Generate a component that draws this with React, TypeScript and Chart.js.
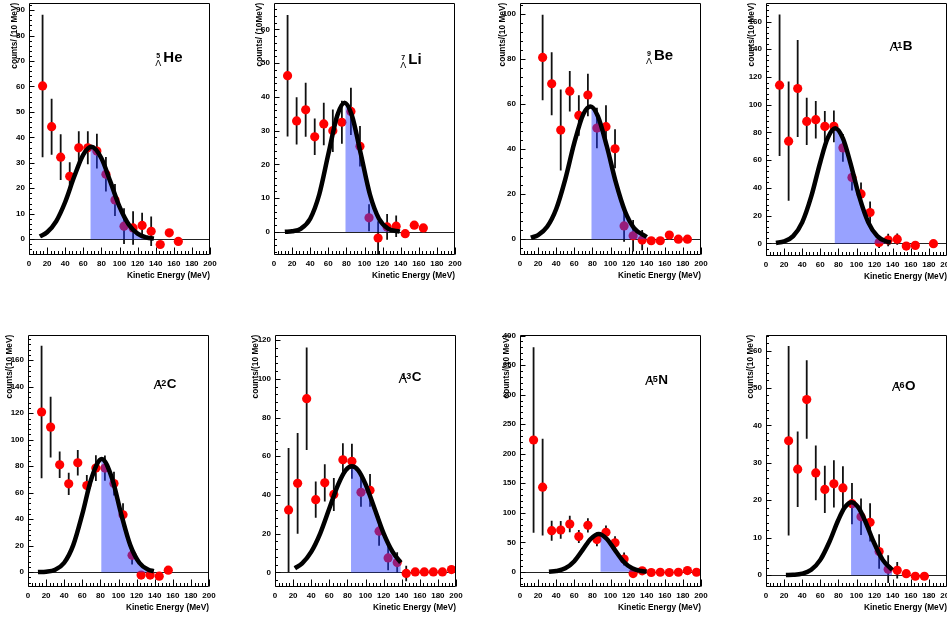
import React, { useEffect, useRef } from "react";
import { Chart, registerables } from "chart.js";

// ---------------- DATA ----------------
const xAxisTitle = "Kinetic Energy (MeV)";
const yAxisTitles = [
  "counts/ (10 MeV)",
  "counts/ (10MeV)",
  "counts/(10 MeV)",
  "counts/(10 MeV)",
  "counts/(10 MeV)",
  "counts/(10 MeV)",
  "counts/(10 MeV)",
  "counts/(10 MeV)",
];
const massNumbers = ["5", "7", "9", "11", "12", "13", "15", "16"];
const elements = ["He", "Li", "Be", "B", "C", "C", "N", "O"];
const xTickValues = [0, 20, 40, 60, 80, 100, 120, 140, 160, 180, 200];
// start (MeV) of the shaded region under each fit
const shadeFrom = [68, 79, 79, 76, 81, 84, 89, 94];

// 5-Lambda He
const heBins = [15, 25, 35, 45, 55, 65, 75, 85, 95, 105, 115, 125, 135, 145, 155, 165];
const heCounts = [60.2, 44.2, 32.2, 24.7, 35.9, 35.9, 34.6, 25.5, 15.4, 5.1, 4.4, 5.4, 3.1, -2.1, 2.5, -0.9];
const heErrors = [28, 11, 9, 5.5, 6.5, 6.5, 6.8, 6.8, 6.3, 7, 6.6, 5, 5.8, 1, 1, 1];
const heFitE = [12, 20, 30, 40, 50, 60, 69, 80, 90, 100, 110, 120, 130, 138];
const heFitCounts = [1.08, 2.7, 7.0, 14.6, 24.6, 33.2, 36.3, 31.8, 22.5, 12.8, 5.9, 2.18, 0.65, 0.21];

// 7-Lambda Li
const liBins = [15, 25, 35, 45, 55, 65, 75, 85, 95, 105, 115, 125, 135, 145, 155, 165];
const liCounts = [46.3, 32.9, 36.2, 28.2, 32.0, 30.0, 32.5, 35.7, 25.4, 4.2, -1.8, 1.5, 1.7, -0.5, 2.0, 1.2];
const liErrors = [18, 7, 8, 5.4, 6.3, 6.3, 6.4, 7, 6, 4, 5, 3.8, 3.2, 1, 0.5, 0.5];
const liFitE = [12, 20, 30, 40, 50, 60, 70, 78, 86, 96, 106, 116, 126, 139];
const liFitCounts = [0.04, 0.19, 1.01, 3.92, 11.1, 23.0, 34.6, 38.3, 34.6, 23.0, 11.1, 3.92, 1.01, 0.11];

// 9-Lambda Be
const beBins = [25, 35, 45, 55, 65, 75, 85, 95, 105, 115, 125, 135, 145, 155, 165, 175, 185];
const beCounts = [80.8, 69.1, 48.5, 65.8, 55.0, 64.1, 49.4, 50.0, 40.2, 5.9, 1.5, -0.4, -0.7, -0.7, 1.8, 0, 0];
const beErrors = [19, 14, 18, 9, 9, 9.5, 9, 9.5, 8.7, 7, 7, 4.5, 1, 1, 1, 1, 1];
const beFitE = [12, 20, 30, 40, 50, 60, 70, 78, 86, 96, 106, 116, 126, 140];
const beFitCounts = [0.65, 1.82, 5.49, 13.4, 26.6, 42.8, 55.6, 59.0, 54.7, 41.2, 25.1, 12.4, 4.96, 0.97];

// 11-Lambda B
const bBins = [15, 25, 35, 45, 55, 65, 75, 85, 95, 105, 115, 125, 135, 145, 155, 165, 185];
const bCounts = [114.1, 73.7, 111.7, 88.0, 89.2, 84.4, 84.4, 68.9, 47.6, 35.7, 22.3, 0.7, 2.4, 3.1, -1.9, -1.4, -0.2];
const bErrors = [51, 43, 35, 17, 13.5, 11, 11.5, 10, 9.5, 8.3, 8, 4, 4.5, 4, 2, 1, 1];
const bFitE = [11, 20, 30, 40, 50, 60, 68, 76.5, 85, 93, 103, 113, 123, 133, 138];
const bFitCounts = [0.35, 1.42, 5.26, 15.2, 33.9, 58.7, 75.7, 83, 75.7, 58.7, 33.9, 15.2, 5.26, 1.42, 0.67];

// 12-Lambda C
const c12Bins = [15, 25, 35, 45, 55, 65, 75, 85, 95, 105, 115, 125, 135, 145, 155];
const c12Counts = [120.9, 109.5, 81.1, 66.7, 82.6, 65.4, 78.6, 78.6, 66.9, 43.3, 12.7, -2.2, -2.2, -3.0, 1.5];
const c12Errors = [50, 23, 10, 8.4, 9.7, 8, 9.7, 9.5, 9, 8.7, 7, 3, 3, 2, 1];
const c12FitE = [11, 20, 30, 40, 50, 60, 70, 81.5, 93, 103, 113, 123, 133, 139];
const c12FitCounts = [0.07, 0.36, 1.86, 7.1, 20.4, 43.8, 70.6, 85.5, 70.6, 43.8, 20.4, 7.1, 1.86, 0.72];

// 13-Lambda C
const c13Bins = [15, 25, 35, 45, 55, 65, 75, 85, 95, 105, 115, 125, 135, 145, 155, 165, 175, 185, 195];
const c13Counts = [32.3, 46.0, 89.7, 37.6, 46.3, 40.3, 58.2, 57.4, 41.4, 42.4, 21.3, 7.5, 5.1, -0.5, 0.3, 0.3, 0.3, 0.3, 1.5];
const c13Errors = [32, 26, 26.5, 9.4, 9.6, 8.5, 8.5, 9, 7.5, 8.5, 7.5, 6.4, 5.3, 4, 0.5, 0.5, 0.5, 0.5, 0.5];
const c13FitE = [22, 30, 40, 50, 60, 70, 78, 85, 92, 100, 110, 120, 130, 139];
const c13FitCounts = [2.17, 4.69, 10.6, 20.2, 33.0, 45.6, 52.7, 54.8, 52.7, 45.6, 33.0, 20.2, 10.6, 5.1];

// 15-Lambda N
const nBins = [15, 25, 35, 45, 55, 65, 75, 85, 95, 105, 115, 125, 135, 145, 155, 165, 175, 185, 195];
const nCounts = [223.2, 143.4, 69.7, 70.9, 80.9, 59.7, 78.7, 54.7, 66.9, 49.1, 21.8, -2.8, 1.7, -1.1, -0.6, -1.1, -0.6, 2.2, -0.6];
const nErrors = [157, 82, 17, 15, 14, 11, 12, 11.5, 11.5, 11, 11, 5, 4, 1, 1, 1, 1, 1, 1];
const nFitE = [32, 40, 50, 60, 70, 78, 87, 96, 104, 114, 124, 134, 140];
const nFitCounts = [0.34, 1.4, 6.0, 18.1, 38.8, 55.6, 64, 55.6, 38.8, 18.1, 6.0, 1.4, 0.5];

// 16-Lambda O
const oBins = [25, 35, 45, 55, 65, 75, 85, 95, 105, 115, 125, 135, 145, 155, 165, 175];
const oCounts = [35.9, 28.3, 46.9, 27.3, 22.9, 24.4, 23.3, 19.1, 15.6, 14.1, 6.3, 1.6, 1.3, 0.4, -0.3, -0.3];
const oErrors = [25.3, 10.1, 10.5, 7.3, 6.3, 6.3, 5.8, 5.5, 4.9, 5.1, 4.6, 3.7, 2.2, 1, 0.5, 0.5];
const oFitE = [22, 30, 40, 50, 60, 70, 80, 87, 94.5, 102, 109, 119, 129, 139.5];
const oFitCounts = [0.02, 0.08, 0.39, 1.44, 4.08, 8.86, 14.8, 18.1, 19.5, 18.1, 14.8, 8.86, 4.08, 1.36];

const SERIES = [
  { bins: heBins, counts: heCounts, errors: heErrors, fitE: heFitE, fitY: heFitCounts },
  { bins: liBins, counts: liCounts, errors: liErrors, fitE: liFitE, fitY: liFitCounts },
  { bins: beBins, counts: beCounts, errors: beErrors, fitE: beFitE, fitY: beFitCounts },
  { bins: bBins, counts: bCounts, errors: bErrors, fitE: bFitE, fitY: bFitCounts },
  { bins: c12Bins, counts: c12Counts, errors: c12Errors, fitE: c12FitE, fitY: c12FitCounts },
  { bins: c13Bins, counts: c13Counts, errors: c13Errors, fitE: c13FitE, fitY: c13FitCounts },
  { bins: nBins, counts: nCounts, errors: nErrors, fitE: nFitE, fitY: nFitCounts },
  { bins: oBins, counts: oCounts, errors: oErrors, fitE: oFitE, fitY: oFitCounts },
];

// ---------------- LAYOUT / STYLE ----------------
const PLOT_W = 181;
const X_AXIS_H = 26;
const PAD_TOP = 6;
const PAD_RIGHT = 12;
const FONT = '"Liberation Sans", Arial, Helvetica, sans-serif';
const SHADE = "rgba(40, 60, 255, 0.48)";

const LAYOUT = [
  { L: 29, T: 0, B: 255, d: 14, yMin: -6.22, yMax: 92.85, yStep: 10, lx: 134.3, ly: 59.3, stack: true },
  { L: 274, T: 0, B: 255, d: 14, yMin: -6.83, yMax: 67.9, yStep: 10, lx: 134.3, ly: 61.5, stack: true },
  { L: 520, T: 0, B: 255, d: 17, yMin: -7.04, yMax: 105.1, yStep: 20, lx: 134, ly: 57.3, stack: true },
  { L: 766, T: 0, B: 256, d: 14, yMin: -9.06, yMax: 173.5, yStep: 20, lx: 136.7, ly: 46.7, stack: false },
  { L: 28, T: 332, B: 587, d: 18, yMin: -11.2, yMax: 179.2, yStep: 20, lx: 138.7, ly: 53, stack: false },
  { L: 275, T: 332, B: 587, d: 19, yMin: -7.5, yMax: 122.7, yStep: 20, lx: 136.7, ly: 46.3, stack: false },
  { L: 520, T: 332, B: 587, d: 13, yMin: -25.6, yMax: 401.2, yStep: 50, lx: 138.3, ly: 48.7, stack: false },
  { L: 766, T: 332, B: 587, d: 15, yMin: -3.17, yMax: 64.2, yStep: 10, lx: 139, ly: 54.7, stack: false },
];

// Decoration plugin: error bars, clipped shading, zero line, frame with inner ticks, nuclide label
const decoPlugin: any = {
  id: "deco",
  defaults: { idx: -1 },
  beforeDatasetsDraw(chart: any, _a: any, opts: any) {
    if (opts.idx < 0) return;
    const { ctx, chartArea: ca } = chart;
    const ys = chart.scales.y;
    const y0 = Math.round(ys.getPixelForValue(0)) + 0.5;
    ctx.save();
    ctx.strokeStyle = "#222";
    ctx.lineWidth = 1.2;
    ctx.beginPath();
    ctx.moveTo(ca.left, y0);
    ctx.lineTo(ca.right, y0);
    ctx.stroke();
    ctx.restore();
  },
  beforeDatasetDraw(chart: any, args: any, opts: any) {
    if (opts.idx < 0) return;
    const s = SERIES[opts.idx];
    const { ctx, chartArea: ca } = chart;
    const xs = chart.scales.x;
    const ys = chart.scales.y;
    const ds = chart.data.datasets[args.index];
    if (ds.label === "shade") {
      const px = xs.getPixelForValue(shadeFrom[opts.idx]);
      ctx.save();
      ctx.beginPath();
      ctx.rect(px, ca.top, ca.right - px, ca.bottom - ca.top);
      ctx.clip();
    } else if (ds.label === "counts") {
      ctx.save();
      ctx.beginPath();
      ctx.rect(ca.left, ca.top, ca.right - ca.left, ca.bottom - ca.top);
      ctx.clip();
      ctx.strokeStyle = "#111";
      ctx.lineWidth = 1.8;
      ctx.beginPath();
      s.bins.forEach((e: number, i: number) => {
        const x = xs.getPixelForValue(e);
        ctx.moveTo(x, ys.getPixelForValue(s.counts[i] + s.errors[i]));
        ctx.lineTo(x, ys.getPixelForValue(s.counts[i] - s.errors[i]));
      });
      ctx.stroke();
      ctx.restore();
    }
  },
  afterDatasetDraw(chart: any, args: any, opts: any) {
    if (opts.idx < 0) return;
    if (chart.data.datasets[args.index].label === "shade") chart.ctx.restore();
  },
  afterDraw(chart: any, _a: any, opts: any) {
    if (opts.idx < 0) return;
    const lay = LAYOUT[opts.idx];
    const { ctx, chartArea: ca } = chart;
    const xs = chart.scales.x;
    const ys = chart.scales.y;
    ctx.save();
    ctx.strokeStyle = "#000";
    ctx.lineWidth = 1;
    const l = Math.round(ca.left) + 0.5;
    const r = Math.round(ca.right) - 0.5;
    const t = Math.round(ca.top) + 0.5;
    const b = Math.round(ca.bottom) - 0.5;
    ctx.beginPath();
    ctx.rect(l, t, r - l, b - t);
    // x ticks (inside, bottom): major 20, minor 4
    for (let k = 0; k <= 50; k++) {
      const v = k * 4;
      const px = Math.round(xs.getPixelForValue(v)) + 0.5;
      const len = k % 5 === 0 ? 7 : 3.5;
      ctx.moveTo(px, b);
      ctx.lineTo(px, b - len);
    }
    // y ticks (inside, left)
    const minor = lay.yStep / 5;
    const k0 = Math.ceil(lay.yMin / minor);
    const k1 = Math.floor(lay.yMax / minor);
    for (let k = k0; k <= k1; k++) {
      const py = Math.round(ys.getPixelForValue(k * minor)) + 0.5;
      const len = k % 5 === 0 ? 5 : 2.5;
      ctx.moveTo(l, py);
      ctx.lineTo(l + len, py);
    }
    ctx.stroke();

    // nuclide label
    const bx = ca.left + lay.lx;
    const by = ca.top + lay.ly;
    ctx.fillStyle = "#000";
    ctx.textBaseline = "alphabetic";
    if (lay.stack) {
      ctx.textAlign = "center";
      ctx.font = `bold 7px ${FONT}`;
      ctx.fillText(massNumbers[opts.idx], bx - 5, by - 4.5);
      ctx.font = `9px ${FONT}`;
      ctx.fillText("Λ", bx - 5, by + 3.7);
      ctx.textAlign = "left";
      ctx.font = `bold 15px ${FONT}`;
      ctx.fillText(elements[opts.idx], bx, by);
    } else {
      ctx.textAlign = "right";
      ctx.font = `bold 9px ${FONT}`;
      ctx.fillText(massNumbers[opts.idx], bx - 0.5, by - 2);
      ctx.font = `13px ${FONT}`;
      ctx.fillText("Λ", bx - 4.5, by + 1.5);
      ctx.textAlign = "left";
      ctx.font = `bold 13.5px ${FONT}`;
      ctx.fillText(elements[opts.idx], bx, by);
    }
    ctx.restore();
  },
};

Chart.register(decoPlugin, ...registerables);
Chart.defaults.font.family = FONT;

function Panel({ idx }: { idx: number }) {
  const ref = useRef<HTMLCanvasElement>(null);
  const lay = LAYOUT[idx];
  const W = lay.d + 5;
  const left = lay.L - W;
  const top = lay.T - PAD_TOP;
  const width = PLOT_W + W + PAD_RIGHT;
  const height = lay.B - lay.T + PAD_TOP + X_AXIS_H;

  useEffect(() => {
    const canvas = ref.current!;
    const ctx = canvas.getContext("2d")!;
    const s = SERIES[idx];
    const fitPts = s.fitE.map((e, i) => ({ x: e, y: s.fitY[i] }));
    const pts = s.bins.map((e, i) => ({ x: e, y: s.counts[i] }));
    const tickFont = { family: FONT, size: 8, weight: "bold" as const };
    const titleFont = { family: FONT, size: 8.3, weight: "bold" as const };

    const chart = new Chart(ctx, {
      type: "scatter",
      data: {
        datasets: [
          {
            type: "line",
            label: "fit",
            data: fitPts,
            borderColor: "#000",
            borderWidth: 4.5,
            pointRadius: 0,
            cubicInterpolationMode: "monotone",
            fill: false,
            order: 0,
          } as any,
          {
            type: "line",
            label: "shade",
            data: fitPts,
            borderWidth: 0,
            borderColor: "rgba(0,0,0,0)",
            backgroundColor: SHADE,
            pointRadius: 0,
            cubicInterpolationMode: "monotone",
            fill: "origin",
            order: 1,
          } as any,
          {
            type: "scatter",
            label: "counts",
            data: pts,
            backgroundColor: "#ff0000",
            borderWidth: 0,
            pointRadius: 4.6,
            order: 2,
          } as any,
        ],
      },
      options: {
        responsive: false,
        maintainAspectRatio: false,
        animation: false,
        events: [],
        layout: { padding: { top: PAD_TOP, right: PAD_RIGHT, left: 0, bottom: 0 } },
        plugins: {
          legend: { display: false },
          tooltip: { enabled: false },
          colors: { enabled: false },
          deco: { idx },
        } as any,
        scales: {
          x: {
            type: "linear",
            min: 0,
            max: 200,
            afterFit: (sc: any) => {
              sc.height = X_AXIS_H;
            },
            afterBuildTicks: (sc: any) => {
              sc.ticks = xTickValues.map((v) => ({ value: v }));
            },
            ticks: {
              stepSize: 20,
              includeBounds: false,
              autoSkip: false,
              maxRotation: 0,
              font: tickFont,
              color: "#000",
              padding: 4,
            },
            grid: { display: false, drawTicks: false },
            border: { display: false },
            title: {
              display: true,
              text: xAxisTitle,
              align: "end",
              font: titleFont,
              color: "#000",
              padding: 0,
            },
          },
          y: {
            type: "linear",
            min: lay.yMin,
            max: lay.yMax,
            afterFit: (sc: any) => {
              sc.width = W;
            },
            ticks: {
              stepSize: lay.yStep,
              includeBounds: false,
              font: tickFont,
              color: "#000",
              padding: 4,
            },
            grid: { display: false, drawTicks: false },
            border: { display: false },
            title: {
              display: true,
              text: yAxisTitles[idx],
              align: "end",
              font: titleFont,
              color: "#000",
              padding: 0,
            },
          },
        } as any,
      },
    });
    return () => chart.destroy();
  }, [idx]);

  return (
    <canvas
      ref={ref}
      width={width}
      height={height}
      style={{ position: "absolute", left, top, width, height }}
    />
  );
}

export default function App() {
  return (
    <div
      style={{
        position: "absolute",
        left: 0,
        top: 0,
        width: 947,
        height: 619,
        overflow: "hidden",
        background: "#fff",
      }}
    >
      {LAYOUT.map((_, i) => (
        <Panel key={i} idx={i} />
      ))}
    </div>
  );
}
